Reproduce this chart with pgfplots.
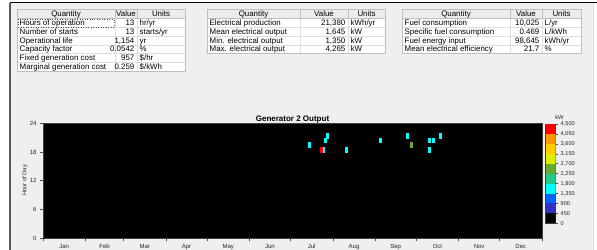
\documentclass[border=0pt]{standalone}
\usepackage{fontspec}
\setmainfont{Liberation Sans}
\usepackage{pgfplots}
\pgfplotsset{compat=1.18}
\usepackage{pgfplotstable}

\definecolor{bgc}{HTML}{EFEFEF}
\definecolor{hdr}{HTML}{ECECEC}
\definecolor{gridc}{HTML}{BEBEBE}
\definecolor{gridl}{HTML}{DDDDDD}
\definecolor{cb0}{HTML}{000000}
\definecolor{cb1}{HTML}{3030C8}
\definecolor{cb2}{HTML}{0066FF}
\definecolor{cb3}{HTML}{00FFFF}
\definecolor{cb4}{HTML}{20CC88}
\definecolor{cb5}{HTML}{66AA33}
\definecolor{cb6}{HTML}{DDEE00}
\definecolor{cb7}{HTML}{FFCC00}
\definecolor{cb8}{HTML}{FF9900}
\definecolor{cb9}{HTML}{FF0000}

% generator 2 operating hours: day of year (cell centre), hour of day (cell centre), output kW
\pgfplotstableread{
day hour kW
194.5 19.5 1350
203.5 18.5 4265
204.7 18.5 1350
206.5 20.5 1350
207.5 21.5 1350
221.5 18.5 1350
246.5 20.5 1350
266.5 21.5 1350
269.5 19.5 2265
282.5 20.5 1350
282.5 18.5 1350
285.5 20.5 1350
290.5 21.5 1350
}\cells

\newcommand{\fs}[1]{\fontsize{#1bp}{#1bp}\selectfont}

% table frame: x0 x1 x2 x3 nrows
\newcommand{\tbl}[5]{%
  \fill[white] (#1,9) rectangle (#4,{18.5+#5*8.8});
  \fill[hdr] (#1,9) rectangle (#4,18.5);
  \foreach \r in {1,...,#5} {\draw[gridl, line width=0.5bp] (#1,{18.5+\r*8.8}) -- (#4,{18.5+\r*8.8});}
  \draw[gridl, line width=0.5bp] (#2,18.5) -- (#2,{18.5+#5*8.8});
  \draw[gridl, line width=0.5bp] (#3,18.5) -- (#3,{18.5+#5*8.8});
  \draw[gridc, line width=0.6bp] (#2,9) -- (#2,18.5) (#3,9) -- (#3,18.5);
  \draw[gridc, line width=0.6bp] (#1,18.5) -- (#4,18.5);
  \draw[gridc, line width=0.6bp] (#1,9) rectangle (#4,{18.5+#5*8.8});
  \node[anchor=base, font=\fs{7.9}] at ({(#1+#2)/2},16.3) {Quantity};
  \node[anchor=base, font=\fs{7.9}] at ({(#2+#3)/2},16.3) {Value};
  \node[anchor=base, font=\fs{7.9}] at ({(#3+#4)/2},16.3) {Units};
}
% row: x0 x2 i quantity value units
\newcommand{\trow}[6]{%
  \node[anchor=base west, font=\fs{7.9}, inner sep=0pt] at ({#1+2.5},{18.5+(#3-1)*8.8+7.0}) {#4};
  \node[anchor=base east, font=\fs{7.9}, inner sep=0pt] at ({#2-2.5},{18.5+(#3-1)*8.8+7.0}) {#5};
  \node[anchor=base west, font=\fs{7.9}, inner sep=0pt] at ({#2+2.5},{18.5+(#3-1)*8.8+7.0}) {#6};
}

\begin{document}
\begin{tikzpicture}
\path[use as bounding box] (0,0) rectangle (597bp,250bp);
\begin{scope}[shift={(0bp,250bp)}, x=1bp, y=-1bp]
  \fill[white] (0,0) rectangle (597,250);
  \fill[bgc] (10,3) rectangle (593,250);
  \draw[black, line width=1bp] (10,3) -- (597,3);
  \draw[black!65, line width=1.4bp] (10,3) -- (10,250);
  \draw[gridl, line width=0.6bp] (593,3) -- (593,250);

  % table 1
  \tbl{17}{115}{137}{185}{6}
  \trow{17}{137}{1}{Hours of operation}{13}{hr/yr}
  \trow{17}{137}{2}{Number of starts}{13}{starts/yr}
  \trow{17}{137}{3}{Operational life}{1,154}{yr}
  \trow{17}{137}{4}{Capacity factor}{0.0542}{\%}
  \trow{17}{137}{5}{Fixed generation cost}{957}{\$/hr}
  \trow{17}{137}{6}{Marginal generation cost}{0.259}{\$/kWh}
  \draw[black!70, dotted, line width=0.5bp] (18.2,19.4) rectangle (114,26.8);

  % table 2
  \tbl{207}{300}{348}{385}{4}
  \trow{207}{348}{1}{Electrical production}{21,380}{kWh/yr}
  \trow{207}{348}{2}{Mean electrical output}{1,645}{kW}
  \trow{207}{348}{3}{Min. electrical output}{1,350}{kW}
  \trow{207}{348}{4}{Max. electrical output}{4,265}{kW}

  % table 3
  \tbl{402}{510}{542}{581}{4}
  \trow{402}{542}{1}{Fuel consumption}{10,025}{L/yr}
  \trow{402}{542}{2}{Specific fuel consumption}{0.469}{L/kWh}
  \trow{402}{542}{3}{Fuel energy input}{98,645}{kWh/yr}
  \trow{402}{542}{4}{Mean electrical efficiency}{21.7}{\%}

  \node[anchor=base, font=\bfseries\fs{8}] at (292.5,121.6) {Generator 2 Output};
  \node[rotate=90, font=\fs{5.8}, text=black!85] at (25,180.5) {Hour of Day};
  \node[anchor=base, font=\fs{5.8}, text=black!85] at (559.5,119.5) {kW};
\end{scope}

\begin{axis}[
  at={(43bp,12bp)}, anchor=south west,
  scale only axis, width=499bp, height=114.7bp,
  xmin=0, xmax=365, ymin=0, ymax=24,
  axis background/.style={fill=black},
  ytick={0,6,12,18,24},
  xtick={15.5,45,74.5,105,135.5,166,196.5,227.5,258,288.5,319,349.5},
  xticklabels={Jan,Feb,Mar,Apr,May,Jun,Jul,Aug,Sep,Oct,Nov,Dec},
  minor xtick={0,31,59,90,120,151,181,212,243,273,304,334,365},
  major x tick style={draw=none},
  tick align=outside,
  major tick length=3bp, minor tick length=3bp,
  every tick/.style={black!70, line width=0.5bp},
  xtick pos=bottom, ytick pos=left,
  ticklabel style={font=\fs{6}, text=black!85},
  /pgf/number format/assume math mode=true,
  axis line style={black!75, line width=0.6bp},
  clip=true,
  cell/.style={only marks, mark=square*, mark size=2.4bp,
    mark options={fill=#1, draw=#1, line width=0.2bp, xscale=0.42}},
]
\addplot[cell=cb3, restrict expr to domain={\thisrow{kW}}{1350:1799}] table[x=day, y=hour] {\cells};
\addplot[cell=cb5, restrict expr to domain={\thisrow{kW}}{2250:2699}] table[x=day, y=hour] {\cells};
\addplot[cell=cb9, restrict expr to domain={\thisrow{kW}}{4050:4500}] table[x=day, y=hour] {\cells};
\end{axis}

\begin{axis}[
  at={(545.7bp,26.7bp)}, anchor=south west,
  scale only axis, width=10bp, height=99.3bp,
  xmin=0, xmax=1, ymin=0, ymax=4500,
  xtick=\empty,
  ytick={0,450,900,1350,1800,2250,2700,3150,3600,4050,4500},
  ytick pos=right, yticklabel pos=right,
  tick align=outside, major tick length=2.5bp,
  every tick/.style={black!70, line width=0.5bp},
  yticklabel style={font=\fs{5.6}, text=black!85, xshift=-1bp},
  /pgf/number format/assume math mode=true,
  /pgf/number format/1000 sep={,},
  axis line style={black!75, line width=0.5bp},
]
\addplot[fill=cb0, draw=none] coordinates {(0,0) (1,0) (1,450) (0,450)} -- cycle;
\addplot[fill=cb1, draw=none] coordinates {(0,450) (1,450) (1,900) (0,900)} -- cycle;
\addplot[fill=cb2, draw=none] coordinates {(0,900) (1,900) (1,1350) (0,1350)} -- cycle;
\addplot[fill=cb3, draw=none] coordinates {(0,1350) (1,1350) (1,1800) (0,1800)} -- cycle;
\addplot[fill=cb4, draw=none] coordinates {(0,1800) (1,1800) (1,2250) (0,2250)} -- cycle;
\addplot[fill=cb5, draw=none] coordinates {(0,2250) (1,2250) (1,2700) (0,2700)} -- cycle;
\addplot[fill=cb6, draw=none] coordinates {(0,2700) (1,2700) (1,3150) (0,3150)} -- cycle;
\addplot[fill=cb7, draw=none] coordinates {(0,3150) (1,3150) (1,3600) (0,3600)} -- cycle;
\addplot[fill=cb8, draw=none] coordinates {(0,3600) (1,3600) (1,4050) (0,4050)} -- cycle;
\addplot[fill=cb9, draw=none] coordinates {(0,4050) (1,4050) (1,4500) (0,4500)} -- cycle;
\end{axis}
\end{tikzpicture}
\end{document}
